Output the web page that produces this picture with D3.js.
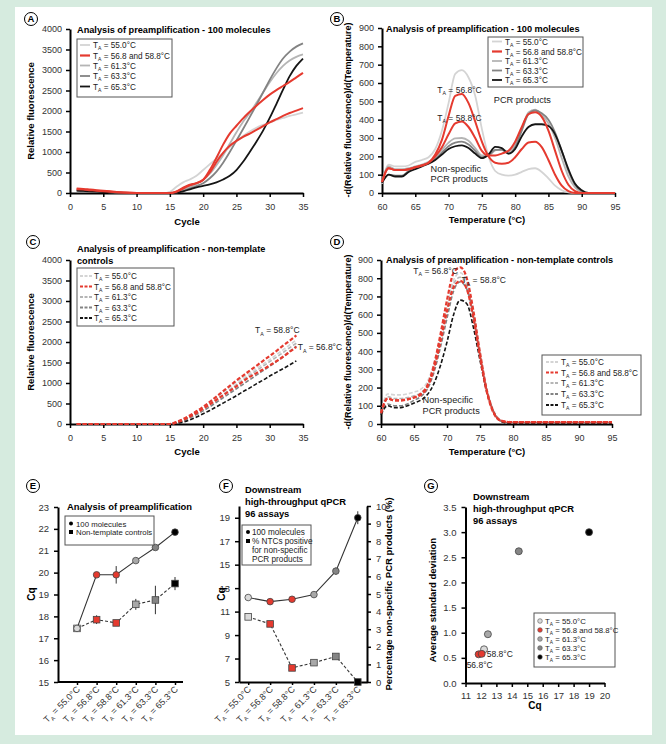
<!DOCTYPE html>
<html>
<head>
<meta charset="utf-8">
<script src="https://cdn.jsdelivr.net/npm/d3@7"></script>
<style>
  body { margin: 0; background: #d6ebdf; }
  text { font-family: "Liberation Sans", Arial, sans-serif; }
</style>
</head>
<body>
<script>
// ---- data -------------------------------------------------------------
var cycles = [1,2,3,4,5,6,7,8,9,10,11,12,13,14,15,16,17,18,19,20,21,22,23,24,25,26,27,28,29,30,31,32,33,34,35];
var temps = [60,61,62,63,64,65,66,67,68,69,70,71,72,73,74,75,76,77,78,79,80,81,82,83,84,85,86,87,88,89,90,91,92,93,94,95];

// A: amplification, 100 molecules
var ampA550 = [90,80,65,50,40,28,18,10,5,2,0,0,0,0,30,150,260,330,420,560,700,840,980,1120,1260,1390,1500,1590,1660,1720,1780,1830,1880,1920,1960];
var ampA568 = [110,100,85,70,55,40,25,15,8,3,0,0,0,0,0,40,130,200,240,320,560,860,1180,1450,1640,1820,1980,2130,2270,2400,2510,2610,2710,2820,2930];
var ampA588 = [90,85,70,55,42,30,20,12,6,2,0,0,0,0,0,30,110,190,240,320,500,760,980,1150,1270,1370,1450,1540,1630,1720,1800,1880,1950,2010,2070];
var ampA613 = [70,60,50,40,30,20,12,6,2,0,0,0,0,0,0,20,80,150,220,320,470,680,920,1200,1480,1740,1950,2200,2450,2700,2920,3100,3230,3320,3380];
var ampA633 = [60,55,45,35,25,18,10,5,2,0,0,0,0,0,0,10,50,110,170,240,360,520,740,1000,1280,1560,1850,2150,2450,2760,3040,3280,3450,3570,3650];
var ampA653 = [60,50,40,32,24,16,10,5,2,0,0,0,0,0,0,5,40,90,140,175,210,260,330,420,560,760,1000,1250,1520,1830,2170,2520,2850,3100,3280];

// B: melt curves, 100 molecules
var meltB550 = [50,155,145,145,150,170,180,195,240,340,490,650,670,630,530,350,200,120,100,95,100,115,130,135,115,80,40,15,3,0,0,0,0,0,0,0];
var meltB568 = [60,135,125,125,130,140,150,165,210,290,420,530,540,490,390,280,200,165,160,165,195,240,275,280,250,180,100,40,10,0,0,0,0,0,0,0];
var meltB588 = [60,135,125,125,130,140,150,165,200,250,320,380,390,360,300,230,205,205,215,230,280,360,430,440,415,340,230,120,45,10,0,0,0,0,0,0];
var meltB613 = [60,145,130,130,135,145,155,170,195,235,275,298,300,285,245,205,205,232,238,225,265,350,440,455,425,380,300,190,90,30,5,0,0,0,0,0];
var meltB633 = [55,100,95,95,120,135,150,162,185,220,255,275,280,265,230,195,205,235,235,215,250,340,430,450,435,400,330,230,120,45,10,0,0,0,0,0];
var meltB653 = [55,100,90,90,115,130,145,160,180,210,240,255,260,245,215,190,210,252,245,215,240,310,360,375,375,365,320,230,130,50,15,0,0,0,0,0];

// C: amplification, non-template controls (cycles 1-34)
var ampC550 = [0,0,0,0,0,0,0,0,0,0,0,0,0,0,0,50,120,210,310,420,540,660,780,900,1020,1130,1240,1350,1460,1570,1690,1810,1930,2050];
var ampC568 = [0,0,0,0,0,0,0,0,0,0,0,0,0,0,0,40,100,180,270,370,480,590,700,810,920,1040,1150,1240,1330,1430,1530,1640,1760,1880];
var ampC588 = [0,0,0,0,0,0,0,0,0,0,0,0,0,0,0,50,120,210,310,420,540,670,800,930,1060,1180,1300,1420,1540,1660,1780,1910,2030,2160];
var ampC613 = [0,0,0,0,0,0,0,0,0,0,0,0,0,0,0,40,100,180,270,370,480,600,720,840,960,1080,1190,1300,1410,1520,1630,1740,1860,1970];
var ampC633 = [0,0,0,0,0,0,0,0,0,0,0,0,0,0,0,30,80,150,230,320,420,530,640,750,860,970,1080,1190,1300,1410,1520,1640,1770,1900];
var ampC653 = [0,0,0,0,0,0,0,0,0,0,0,0,0,0,0,20,50,100,170,250,330,420,510,600,690,790,880,980,1070,1170,1260,1350,1440,1540];

// D: melt curves, non-template controls
var meltD550 = [60,165,160,160,165,175,190,230,330,480,650,790,830,780,620,400,200,80,25,10,8,8,8,8,8,8,8,8,8,8,8,8,8,8,8,8];
var meltD568 = [60,140,130,130,135,145,165,210,320,490,680,830,860,800,620,390,190,70,22,12,10,10,10,10,10,10,10,10,10,10,10,10,10,10,10,10];
var meltD588 = [60,140,130,130,135,145,160,200,300,450,620,750,785,740,580,370,180,65,20,12,10,10,10,10,10,10,10,10,10,10,10,10,10,10,10,10];
var meltD613 = [60,150,140,140,145,155,170,210,310,460,630,770,805,760,600,380,185,70,20,8,6,6,6,6,6,6,6,6,6,6,6,6,6,6,6,6];
var meltD633 = [55,110,100,100,110,130,150,190,280,420,580,730,780,740,590,380,190,70,20,6,5,5,5,5,5,5,5,5,5,5,5,5,5,5,5,5];
var meltD653 = [50,100,90,90,100,115,130,160,220,320,450,600,680,660,530,350,180,70,20,5,3,3,3,3,3,3,3,3,3,3,3,3,3,3,3,3];

// E-G: per annealing temperature
var taCats = ["55.0", "56.8", "58.8", "61.3", "63.3", "65.3"];
var eCqMol = [17.45, 19.9, 19.9, 20.55, 21.15, 21.85];
var eErrMol = [0.1, 0.05, 0.4, 0.05, 0.05, 0.05];
var eCqNtc = [17.45, 17.85, 17.7, 18.55, 18.75, 19.5];
var eErrNtc = [0.15, 0.2, 0.05, 0.25, 0.65, 0.3];
var fCq = [12.2, 11.85, 12.05, 12.45, 14.45, 19.0];
var fErr = [0.1, 0.15, 0.1, 0.1, 0.3, 0.55];
var fPctNtc = [3.7, 3.3, 0.8, 1.1, 1.45, 0];
var gSd = [0.67, 0.57, 0.58, 0.97, 2.62, 3.0];
var legendLabels = ["55.0°C", "56.8 and 58.8°C", "61.3°C", "63.3°C", "65.3°C"];

// ---- style ------------------------------------------------------------
var colors = {
  c550: "#d4d4d4",
  red: "#e53a2f",
  c613: "#b5b5b5",
  c633: "#838383",
  c653: "#151515",
};
var markerFill = ["#dadada", colors.red, colors.red, "#a8a8a8", "#858585", "#000"];
var legendColors = [colors.c550, colors.red, colors.c613, colors.c633, colors.c653];
var tickColor = "#333";

var svg = d3.select("body").append("svg").attr("width", 666).attr("height", 744);
svg.append("rect").attr("width", 666).attr("height", 744).attr("fill", "#d6ebdf");
svg.append("rect").attr("x", 15).attr("y", 7).attr("width", 637).attr("height", 728).attr("fill", "#fff");

// T with subscript A
function ta(t, val, fs) {
  t.append("tspan").text("T");
  t.append("tspan").attr("font-size", fs * 0.62).attr("dy", fs * 0.3).text("A");
  t.append("tspan").attr("dy", -fs * 0.3).text(" = " + val);
}

function styleAxis(ax, fs) {
  ax.select(".domain").attr("stroke", "#000").attr("stroke-width", 2);
  ax.selectAll(".tick line").attr("stroke", "#000").attr("stroke-width", 1.5);
  ax.selectAll(".tick text").attr("fill", tickColor).attr("font-size", fs || 9);
}

function panelLetter(letter, cx, cy) {
  svg.append("circle").attr("cx", cx).attr("cy", cy).attr("r", 6.5)
    .attr("fill", "#fff").attr("stroke", "#000").attr("stroke-width", 1);
  svg.append("text").attr("x", cx).attr("y", cy + 3.3).attr("text-anchor", "middle")
    .attr("font-size", 9.5).attr("font-weight", "bold").text(letter);
}

function boldText(x, y, txt, fs, anchor, rot) {
  var t = svg.append("text").attr("font-size", fs).attr("font-weight", "bold")
    .attr("text-anchor", anchor || "start").text(txt);
  if (rot) t.attr("transform", "translate(" + x + "," + y + ") rotate(" + rot + ")");
  else t.attr("x", x).attr("y", y);
  return t;
}

function plainText(x, y, txt, fs) {
  return svg.append("text").attr("x", x).attr("y", y).attr("font-size", fs || 8.5)
    .attr("fill", "#222").text(txt);
}

function taText(x, y, val, fs) {
  var t = svg.append("text").attr("x", x).attr("y", y).attr("font-size", fs).attr("fill", "#222");
  ta(t, val, fs);
  return t;
}

// ---- line panels (A-D) -------------------------------------------------
function linePanel(cfg) {
  var g = svg.append("g");
  var x = d3.scaleLinear().domain(cfg.xDomain).range(cfg.xRange);
  var y = d3.scaleLinear().domain(cfg.yDomain).range(cfg.yRange);

  var xa = g.append("g").attr("transform", "translate(0," + cfg.yRange[0] + ")")
    .call(d3.axisBottom(x).tickValues(cfg.xTicks).tickFormat(d3.format("d"))
      .tickSize(4).tickSizeOuter(0).tickPadding(7));
  styleAxis(xa);
  var ya = g.append("g").attr("transform", "translate(" + cfg.xRange[0] + ",0)")
    .call(d3.axisLeft(y).tickValues(cfg.yTicks).tickFormat(d3.format("d"))
      .tickSize(4).tickSizeOuter(0).tickPadding(4));
  styleAxis(ya);

  var line = d3.line()
    .x(function (d, i) { return x(cfg.xs[i]); })
    .y(function (d) { return y(d); })
    .curve(d3.curveMonotoneX);

  cfg.series.forEach(function (s) {
    g.append("path").datum(s.values)
      .attr("d", line)
      .attr("fill", "none")
      .attr("stroke", s.color)
      .attr("stroke-width", s.width)
      .attr("stroke-dasharray", s.dash || null)
      .attr("stroke-linejoin", "round");
  });
  return { x: x, y: y };
}

function lineLegend(box, rowYs, sx1, sx2, tx, dashed) {
  svg.append("rect").attr("x", box[0]).attr("y", box[1]).attr("width", box[2]).attr("height", box[3])
    .attr("fill", "#fff").attr("stroke", "#555").attr("stroke-width", 1);
  legendLabels.forEach(function (lab, i) {
    var red = i === 1;
    svg.append("line").attr("x1", sx1).attr("x2", sx2).attr("y1", rowYs[i]).attr("y2", rowYs[i])
      .attr("stroke", legendColors[i]).attr("stroke-width", red ? 2.2 : 1.8)
      .attr("stroke-dasharray", dashed ? "3,1.5" : null);
    taText(tx, rowYs[i] + 3, lab, 8.2);
  });
}

function solidSeries(v550, v568, v588, v613, v633, v653) {
  return [
    { values: v550, color: colors.c550, width: 1.8 },
    { values: v613, color: colors.c613, width: 1.8 },
    { values: v633, color: colors.c633, width: 1.8 },
    { values: v653, color: colors.c653, width: 1.8 },
    { values: v568, color: colors.red, width: 2 },
    { values: v588, color: colors.red, width: 2 },
  ];
}

function dashedSeries(v550, v568, v588, v613, v633, v653) {
  return [
    { values: v550, color: colors.c550, width: 1.6, dash: "4,2" },
    { values: v613, color: colors.c613, width: 1.6, dash: "4,2" },
    { values: v633, color: colors.c633, width: 1.6, dash: "4,2" },
    { values: v653, color: colors.c653, width: 1.6, dash: "4,2" },
    { values: v568, color: colors.red, width: 2.2, dash: "4,2" },
    { values: v588, color: colors.red, width: 2.2, dash: "4,2" },
  ];
}

var cycleTicks = [0, 5, 10, 15, 20, 25, 30, 35];
var tempTicks = [60, 65, 70, 75, 80, 85, 90, 95];
var fluoTicks = [0, 500, 1000, 1500, 2000, 2500, 3000, 3500, 4000];
var derivTicks = [0, 100, 200, 300, 400, 500, 600, 700, 800, 900];

// A
var pA = linePanel({
  xDomain: [0, 35], xRange: [70, 303], yDomain: [0, 4000], yRange: [193, 29],
  xTicks: cycleTicks, yTicks: fluoTicks, xs: cycles,
  series: solidSeries(ampA550, ampA568, ampA588, ampA613, ampA633, ampA653),
});
panelLetter("A", 31, 19);
boldText(77, 33, "Analysis of preamplification - 100 molecules", 9.2);
lineLegend([77, 39, 95, 58], [45, 55.5, 65.5, 76, 86.5], 80, 90, 93, false);
boldText(187, 225, "Cycle", 9.5, "middle");
boldText(34, 111, "Relative fluorescence", 9.5, "middle", -90);

// B
var pB = linePanel({
  xDomain: [60, 95], xRange: [382, 615], yDomain: [0, 900], yRange: [193, 28],
  xTicks: tempTicks, yTicks: derivTicks, xs: temps,
  series: solidSeries(meltB550, meltB568, meltB588, meltB613, meltB633, meltB653),
});
panelLetter("B", 337, 19);
boldText(386, 32, "Analysis of preamplification - 100 molecules", 9.2);
lineLegend([488, 37, 95, 50], [41.5, 51.5, 61, 70.5, 80], 492, 502, 505, false);
boldText(487, 223, "Temperature (°C)", 9.5, "middle");
boldText(351, 110, "-d(Relative fluorescence)/d(Temperature)", 9, "middle", -90);
taText(pB.x(68.3), pB.y(563) + 3, "56.8°C", 8.5);
taText(pB.x(68.3), pB.y(410) + 3, "58.8°C", 8.5);
plainText(pB.x(84) - 48, pB.y(508) + 3, "PCR products", 9.2);
plainText(pB.x(67.3), pB.y(130) + 3, "Non-specific", 9.2);
plainText(pB.x(67.3), pB.y(76) + 3, "PCR products", 9.2);

// C
var pC = linePanel({
  xDomain: [0, 35], xRange: [70, 303], yDomain: [0, 4000], yRange: [424, 260],
  xTicks: cycleTicks, yTicks: fluoTicks, xs: cycles.slice(0, 34),
  series: dashedSeries(ampC550, ampC568, ampC588, ampC613, ampC633, ampC653),
});
panelLetter("C", 33, 242);
boldText(77, 252, "Analysis of preamplification - non-template", 9.2);
boldText(77, 264, "controls", 9.2);
lineLegend([77, 268, 97, 58], [276, 286.5, 297, 307.5, 318], 80, 92, 94, true);
boldText(187, 455, "Cycle", 9.5, "middle");
boldText(34, 342, "Relative fluorescence", 9.5, "middle", -90);
taText(pC.x(27.8), pC.y(2290) + 3, "58.8°C", 8.5);
taText(pC.x(34.2), pC.y(1870) + 3, "56.8°C", 8.5);

// D
var pD = linePanel({
  xDomain: [60, 95], xRange: [381, 612], yDomain: [0, 900], yRange: [424, 260],
  xTicks: tempTicks, yTicks: derivTicks, xs: temps,
  series: dashedSeries(meltD550, meltD568, meltD588, meltD613, meltD633, meltD653),
});
panelLetter("D", 337, 242);
boldText(386, 263, "Analysis of preamplification - non-template controls", 9.2);
lineLegend([542, 355, 99, 60], [362, 372.5, 383, 394, 405], 546, 558, 561, true);
boldText(487, 455, "Temperature (°C)", 9.5, "middle");
boldText(351, 342, "-d(Relative fluorescence)/d(Temperature)", 9, "middle", -90);
taText(pD.x(64.9), pD.y(840) + 3, "56.8°C", 8.5);
taText(pD.x(72.2), pD.y(790) + 3, "58.8°C", 8.5);
plainText(pD.x(66.3), pD.y(130) + 3, "Non-specific", 9.2);
plainText(pD.x(66.3), pD.y(70) + 3, "PCR products", 9.2);

// ---- category panels (E, F) ---------------------------------------------
function rotatedCatLabels(ax) {
  ax.selectAll(".tick text").each(function (d) {
    var t = d3.select(this);
    t.text(null).attr("y", null).attr("dy", null).attr("x", null)
      .attr("text-anchor", "end")
      .attr("transform", "translate(3,8) rotate(-45)");
    ta(t, d + "°C", 9);
  });
}

function marker(g, shape, cx, cy, fill) {
  if (shape === "circle") {
    g.append("circle").attr("cx", cx).attr("cy", cy).attr("r", 3.3)
      .attr("fill", fill).attr("stroke", "#444").attr("stroke-width", 0.8);
  } else {
    g.append("rect").attr("x", cx - 3.3).attr("y", cy - 3.3).attr("width", 6.6).attr("height", 6.6)
      .attr("fill", fill).attr("stroke", "#444").attr("stroke-width", 0.8);
  }
}

function catSeries(g, x, y, vals, errs, shape, dash) {
  var line = d3.line().x(function (d, i) { return x(taCats[i]); }).y(function (d) { return y(d); });
  g.append("path").datum(vals).attr("d", line).attr("fill", "none")
    .attr("stroke", "#333").attr("stroke-width", 1.1).attr("stroke-dasharray", dash || null);
  vals.forEach(function (v, i) {
    if (errs && errs[i] > 0.08) {
      g.append("line").attr("x1", x(taCats[i])).attr("x2", x(taCats[i]))
        .attr("y1", y(v - errs[i])).attr("y2", y(v + errs[i]))
        .attr("stroke", "#333").attr("stroke-width", 1);
    }
  });
  vals.forEach(function (v, i) { marker(g, shape, x(taCats[i]), y(v), markerFill[i]); });
}

function markLegend(box, rows, mx, tx, fs) {
  svg.append("rect").attr("x", box[0]).attr("y", box[1]).attr("width", box[2]).attr("height", box[3])
    .attr("fill", "#fff").attr("stroke", "#555").attr("stroke-width", 1);
  rows.forEach(function (r) {
    if (r.shape === "circle") {
      svg.append("circle").attr("cx", mx).attr("cy", r.y).attr("r", 2).attr("fill", "#000");
    } else if (r.shape === "square") {
      svg.append("rect").attr("x", mx - 2).attr("y", r.y - 2).attr("width", 4).attr("height", 4).attr("fill", "#000");
    }
    plainText(tx, r.y + 3, r.text, fs);
  });
}

// E
(function () {
  var g = svg.append("g");
  var x = d3.scalePoint().domain(taCats).range([77, 175]);
  var y = d3.scaleLinear().domain([15, 23]).range([682, 507]);
  var ya = g.append("g").attr("transform", "translate(58,0)")
    .call(d3.axisLeft(y).tickValues([15, 16, 17, 18, 19, 20, 21, 22, 23]).tickSize(4).tickSizeOuter(0).tickPadding(5));
  styleAxis(ya, 9.5);
  var xa = g.append("g").attr("transform", "translate(0,682)")
    .call(d3.axisBottom(x).tickSize(3).tickSizeOuter(0));
  styleAxis(xa, 9);
  xa.select(".domain").attr("d", "M58,0H" + (x(taCats[5]) + 8));
  rotatedCatLabels(xa);
  catSeries(g, x, y, eCqNtc, eErrNtc, "square", "3,2");
  catSeries(g, x, y, eCqMol, eErrMol, "circle");
  panelLetter("E", 33, 486);
  boldText(67, 510, "Analysis of preamplification", 9.4);
  markLegend([65, 516, 89, 29], [
    { shape: "circle", y: 523.5, text: "100 molecules" },
    { shape: "square", y: 532, text: "Non-template controls" },
  ], 71, 76, 7.8);
  boldText(35, 594, "Cq", 10, "middle", -90);
})();

// F
(function () {
  var g = svg.append("g");
  var x = d3.scalePoint().domain(taCats).range([239, 367]).padding(0.42);
  var y = d3.scaleLinear().domain([5, 20]).range([682, 506]);
  var y2 = d3.scaleLinear().domain([0, 10]).range([682, 506]);
  var ya = g.append("g").attr("transform", "translate(239,0)")
    .call(d3.axisLeft(y).tickValues([5, 7, 9, 11, 13, 15, 17, 19]).tickSize(4).tickSizeOuter(0).tickPadding(5));
  styleAxis(ya, 9.5);
  var ya2 = g.append("g").attr("transform", "translate(367,0)")
    .call(d3.axisRight(y2).tickValues([0, 1, 2, 3, 4, 5, 6, 7, 8, 9, 10]).tickSize(4).tickSizeOuter(0).tickPadding(5));
  styleAxis(ya2, 9.5);
  var xa = g.append("g").attr("transform", "translate(0,682)")
    .call(d3.axisBottom(x).tickSize(3).tickSizeOuter(0));
  styleAxis(xa, 9);
  rotatedCatLabels(xa);
  catSeries(g, x, y2, fPctNtc, null, "square", "3,2");
  catSeries(g, x, y, fCq, fErr, "circle");
  panelLetter("F", 226, 486);
  boldText(245, 493, "Downstream", 9.4);
  boldText(245, 505, "high-throughput qPCR", 9.4);
  boldText(245, 517, "96 assays", 9.4);
  markLegend([242, 525, 69, 40], [
    { shape: "circle", y: 532, text: "100 molecules" },
    { shape: "square", y: 541, text: "% NTCs positive" },
    { shape: null, y: 550, text: "for non-specific" },
    { shape: null, y: 559, text: "PCR products" },
  ], 248, 252, 8.2);
  boldText(225, 594, "Cq", 10, "middle", -90);
  boldText(392, 594, "Percentage non-specific PCR products (%)", 9.5, "middle", -90);
})();

// G
(function () {
  var g = svg.append("g");
  var x = d3.scaleLinear().domain([11, 20]).range([465.5, 604.5]);
  var y = d3.scaleLinear().domain([0, 3.5]).range([683, 507]);
  var ya = g.append("g").attr("transform", "translate(" + x(11) + ",0)")
    .call(d3.axisLeft(y).tickValues([0, 0.5, 1, 1.5, 2, 2.5, 3, 3.5]).tickFormat(d3.format(".1f"))
      .tickSize(4).tickSizeOuter(0).tickPadding(5));
  styleAxis(ya, 9.5);
  var xa = g.append("g").attr("transform", "translate(0,683)")
    .call(d3.axisBottom(x).tickValues([11, 12, 13, 14, 15, 16, 17, 18, 19, 20]).tickSize(4).tickSizeOuter(0).tickPadding(5));
  styleAxis(xa, 9.5);
  var order = [0, 3, 4, 5, 1, 2];
  order.forEach(function (i) {
    g.append("circle").attr("cx", x(fCq[i])).attr("cy", y(gSd[i])).attr("r", 3.5)
      .attr("fill", markerFill[i]).attr("stroke", "#444").attr("stroke-width", 0.8);
  });
  plainText(x(fCq[2]) + 5, y(gSd[2]) + 3, "58.8°C", 8.5);
  plainText(x(fCq[1]) - 12, y(gSd[1]) + 14, "56.8°C", 8.5);
  panelLetter("G", 431, 486);
  boldText(473, 500, "Downstream", 9.4);
  boldText(473, 512, "high-throughput qPCR", 9.4);
  boldText(473, 524, "96 assays", 9.4);
  svg.append("rect").attr("x", 534).attr("y", 613).attr("width", 81).attr("height", 54)
    .attr("fill", "#fff").attr("stroke", "#555").attr("stroke-width", 1);
  var legFill = [markerFill[0], colors.red, "#a8a8a8", "#858585", "#000"];
  var rowY = [621, 630, 639, 648, 657];
  legendLabels.forEach(function (lab, i) {
    svg.append("circle").attr("cx", 540).attr("cy", rowY[i]).attr("r", 2.3)
      .attr("fill", legFill[i]).attr("stroke", "#555").attr("stroke-width", 0.6);
    taText(545, rowY[i] + 3, lab, 7.8);
  });
  boldText(535, 709, "Cq", 10, "middle");
  boldText(436, 600, "Average standard deviation", 9.5, "middle", -90);
})();
</script>
</body>
</html>
